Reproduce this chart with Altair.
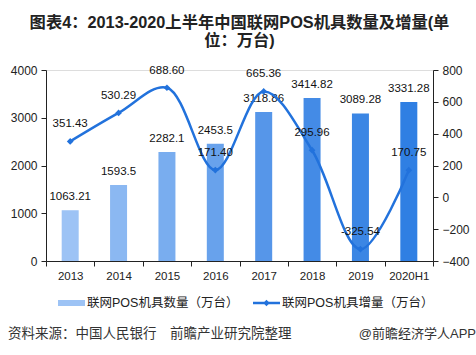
import altair as alt
import pandas as pd

years = ["2013", "2014", "2015", "2016", "2017", "2018", "2019", "2020H1"]
counts = [1063.21, 1593.5, 2282.1, 2453.5, 3118.86, 3414.82, 3089.28, 3331.28]
increments = [351.43, 530.29, 688.60, 171.40, 665.36, 295.96, -325.54, 170.75]
count_labels = ["1063.21", "1593.5", "2282.1", "2453.5", "3118.86", "3414.82", "3089.28", "3331.28"]
inc_labels = ["351.43", "530.29", "688.60", "171.40", "665.36", "295.96", "-325.54", "170.75"]
bar_colors = ["#9DC3F5", "#8BB8F2", "#79ADEF", "#68A2EC", "#5696E9", "#448BE6", "#3B86E4", "#2F7FE3"]
left_ticks = [0, 1000, 2000, 3000, 4000]
right_ticks = [-400, -200, 0, 200, 400, 600, 800]
legend_names = ["联网POS机具数量（万台）", "联网POS机具增量（万台）"]
title_lines = ["图表4：2013-2020上半年中国联网POS机具数量及增量(单", "位：万台)"]
source_text = "资料来源：中国人民银行\u3000前瞻产业研究院整理"
brand_text = "@前瞻经济学人APP"

df = pd.DataFrame({
    "year": years, "count": counts, "inc": increments,
    "clab": count_labels, "ilab": inc_labels,
})

FONT = "Liberation Sans"
MIX = "Liberation Sans, Noto Sans CJK SC"
CJK = "Noto Sans CJK SC"
LINE_COLOR = "#2272DC"

x_enc = alt.X("year:N", sort=years, title=None,
              scale=alt.Scale(paddingInner=0, paddingOuter=0),
              axis=alt.Axis(labelAngle=0, tickBand="extent", tickSize=5,
                            labelFontSize=11.5, labelFont=FONT, labelColor="#222",
                            domainColor="#222", tickColor="#222", labelPadding=4))

yl = alt.Y("count:Q", title=None,
           scale=alt.Scale(domain=[0, 4000]),
           axis=alt.Axis(values=left_ticks, grid=False, tickSize=5, format="d",
                         labelFontSize=12, labelFont=FONT, labelColor="#222", labelOverlap=False,
                         domainColor="#222", tickColor="#222", labelPadding=4))
yr = alt.Y("inc:Q", title=None,
           scale=alt.Scale(domain=[-400, 800]),
           axis=alt.Axis(orient="right", values=right_ticks,
                         grid=False, tickSize=5, labelFontSize=12, labelFont=FONT, format="d",
                         labelColor="#222", domainColor="#222", tickColor="#222",
                         labelOverlap=False, labelPadding=4))

base = alt.Chart(df)

bars = base.mark_bar(size=17).encode(
    x=x_enc, y=yl,
    color=alt.Color("year:N", sort=years, scale=alt.Scale(domain=years, range=bar_colors), legend=None),
)
bar_text = base.mark_text(dy=-13, fontSize=11.5, font=FONT, color="#111").encode(
    x=x_enc, y=yl, text="clab:N")

left = alt.layer(bars, bar_text)

line = base.mark_line(interpolate="catmull-rom", color=LINE_COLOR, strokeWidth=2.5).encode(
    x=x_enc, y=yr)
pts = base.mark_point(shape="diamond", filled=True, size=45, color=LINE_COLOR, opacity=1).encode(
    x=x_enc, y=yr)
line_text = base.mark_text(dy=-17, fontSize=11.5, font=FONT, color="#111").encode(
    x=x_enc, y=yr, text="ilab:N")

right = alt.layer(line, pts, line_text)

# legend and footer
leg_df = pd.DataFrame({"n": [0]})
leg = alt.Chart(leg_df)
leg_rect = leg.mark_rect(color=bar_colors[0]).encode(
    x=alt.value(12), x2=alt.value(39), y=alt.value(230), y2=alt.value(236))
leg_t1 = leg.mark_text(align="left", baseline="middle", fontSize=12.5, font=MIX, color="#222").encode(
    x=alt.value(41), y=alt.value(233), text=alt.value(legend_names[0]))
leg_rule = leg.mark_rule(color=LINE_COLOR, strokeWidth=2.5).encode(
    x=alt.value(207), x2=alt.value(234), y=alt.value(233))
leg_pt = leg.mark_point(shape="diamond", filled=True, size=40, color=LINE_COLOR, opacity=1).encode(
    x=alt.value(220.5), y=alt.value(233))
leg_t2 = leg.mark_text(align="left", baseline="middle", fontSize=12.5, font=MIX, color="#222").encode(
    x=alt.value(236), y=alt.value(233), text=alt.value(legend_names[1]))
src = leg.mark_text(align="left", baseline="middle", fontSize=13.5, font=CJK, color="#333").encode(
    x=alt.value(-38), y=alt.value(264), text=alt.value(source_text))
brand = leg.mark_text(align="right", baseline="middle", fontSize=13, font=MIX, color="#333").encode(
    x=alt.value(430), y=alt.value(264), text=alt.value(brand_text))

main = alt.layer(left, right).resolve_scale(y="independent", color="independent")

chart = alt.layer(main, leg_rect, leg_t1, leg_rule, leg_pt, leg_t2, src, brand).properties(
    width=387, height=191,
    title=alt.TitleParams(text=title_lines, fontSize=16.3, font=MIX, fontWeight="bold",
                          color="#222", anchor="middle", offset=15, lineHeight=18),
    autosize=alt.AutoSizeParams(type="none"),
    padding={"left": 46, "top": 70, "right": 43, "bottom": 94},
).configure_view(stroke=None).configure(background="white")

chart.save("out.html", embed_options={"renderer": "svg", "actions": False})
